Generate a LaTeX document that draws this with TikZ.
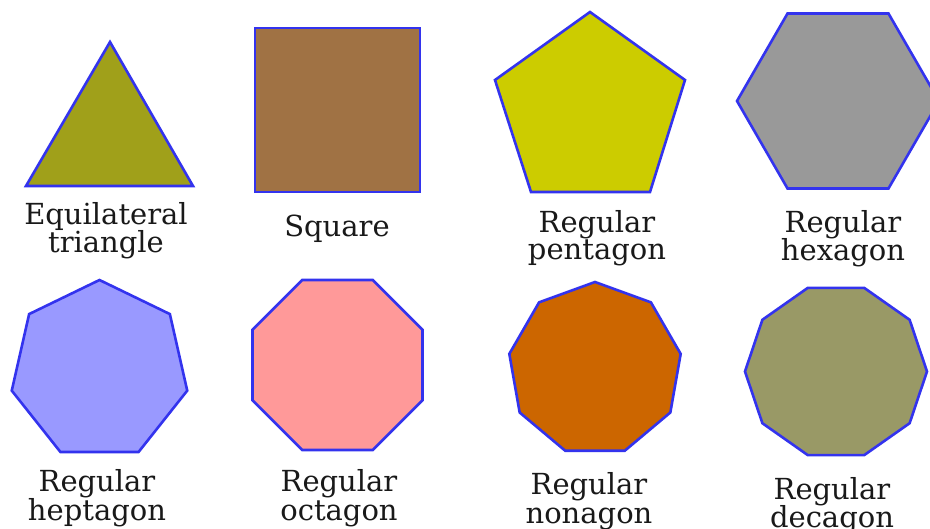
\documentclass[tikz,border=0pt]{standalone}
\usepackage{fontspec}
\setmainfont{DejaVu Serif}
\definecolor{edgeblue}{HTML}{3333EE}
\definecolor{triolive}{HTML}{A0A01A}
\definecolor{sqbrown}{HTML}{A07244}
\definecolor{pentyellow}{HTML}{CCCC00}
\definecolor{hexgray}{HTML}{999999}
\definecolor{heptblue}{HTML}{9999FF}
\definecolor{octpink}{HTML}{FF9999}
\definecolor{nonorange}{HTML}{CC6600}
\definecolor{decolive}{HTML}{999966}
\tikzset{
  poly/.style={draw=edgeblue,line width=2.6pt,line join=miter},
  lbl/.style={anchor=base,inner sep=0pt,text=black!90,font=\fontsize{29}{29}\selectfont}
}

\begin{document}
\begin{tikzpicture}[x=1pt,y=-1pt]
  \clip (0,0) rectangle (930,529);
  \fill[white] (0,0) rectangle (930,529);

  \draw[poly,fill=triolive] (110,42) -- (193,186) -- (26,186) -- cycle;
  \draw[poly,fill=sqbrown] (255,28) rectangle (420,192);
  \draw[poly,fill=pentyellow] (590,12) -- (685,80) -- (650,192) -- (531,192) -- (495,80) -- cycle;

  \foreach \cx/\cy/\rx/\ry/\n/\off/\col in {838/101/101/101/6/0/hexgray,
      99.5/370.5/90/90.5/7/-90/heptblue,337.5/365/92/92/8/22.5/octpink,
      595/369/87/87/9/-90/nonorange,836/371.5/91/88/10/0/decolive} {
    \pgfmathtruncatemacro\last{\n-1}
    \draw[poly,fill=\col] ({\cx+\rx*cos(\off)},{\cy+\ry*sin(\off)})
      \foreach \k in {1,...,\last} {
        -- ({\cx+\rx*cos(\off+\k*360/\n)},{\cy+\ry*sin(\off+\k*360/\n)})
      } -- cycle;
  }

  \node[lbl] (sq-a) at (337,237) {Square};
  \foreach \nm/\x/\ya/\yb/\top/\bot in {tri/106/225/253/Equilateral/triangle,
      pent/597/233/260/Regular/pentagon,hex/843/233/261/Regular/hexagon,
      hept/97/492/520/Regular/heptagon,oct/339/492/520/Regular/octagon,
      non/589/494/523/Regular/nonagon,dec/832/500/527/Regular/decagon} {
    \node[lbl] (\nm-a) at (\x,\ya) {\top};
    \node[lbl] (\nm-b) at (\x,\yb) {\bot};
  }
\end{tikzpicture}
\end{document}
